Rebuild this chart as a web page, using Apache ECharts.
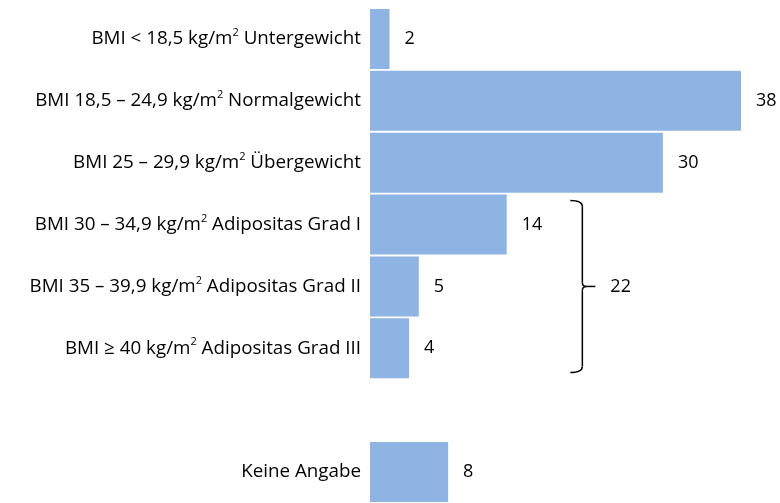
<!DOCTYPE html>
<html>
<head>
<meta charset="utf-8">
<script src="https://cdn.jsdelivr.net/npm/echarts@6/dist/echarts.min.js"></script>
<style>
  html, body { margin: 0; padding: 0; background: #fff; }
  #box { width: 780px; height: 503px; }
</style>
</head>
<body>
<div id="box"></div>
<script>
// Kategorien (leere Kategorie = Abstand vor "Keine Angabe")
var categories = [
  'BMI < 18,5 kg/m{sup|2} Untergewicht',
  'BMI 18,5 – 24,9 kg/m{sup|2} Normalgewicht',
  'BMI 25 – 29,9 kg/m{sup|2} Übergewicht',
  'BMI 30 – 34,9 kg/m{sup|2} Adipositas Grad I',
  'BMI 35 – 39,9 kg/m{sup|2} Adipositas Grad II',
  'BMI ≥ 40 kg/m{sup|2} Adipositas Grad III',
  '',
  'Keine Angabe'
]
var values = [2, 38, 30, 14, 5, 4, null, 8]

// Klammer über Adipositas-Gruppen
var bracketFrom = 3
var bracketTo = 5
var bracketLabel = '22'
var bracketValue = 21.75

var font = 'Open Sans'
var fontSize = 18
var myChart = echarts.init(document.getElementById('box'))

myChart.setOption({
  animation: false,
  textStyle: { fontFamily: font },
  grid: { left: 370, right: 39, top: 8, height: 499, containLabel: false },
  xAxis: {
    type: 'value',
    min: 0,
    max: 38,
    show: false
  },
  yAxis: {
    type: 'category',
    inverse: true,
    data: categories,
    axisLine: { show: false },
    axisTick: { show: false },
    axisLabel: {
      margin: 9,
      color: '#000',
      fontSize: 18.8,
      fontFamily: font,
      rich: {
        sup: { fontSize: 11, fontFamily: font, color: '#000', padding: [0, 0, 12, 0] }
      }
    }
  },
  series: [{
    type: 'bar',
    data: values,
    barCategoryGap: '3%',
    itemStyle: { color: '#8EB4E3' },
    label: {
      show: true,
      position: 'right',
      distance: 15,
      color: '#000',
      fontSize: fontSize,
      fontFamily: font
    }
  }]
})

// Klammer zeichnen
function drawBracket() {
  var pTop = myChart.convertToPixel({ gridIndex: 0 }, [bracketValue, bracketFrom])
  var pBottom = myChart.convertToPixel({ gridIndex: 0 }, [bracketValue, bracketTo])
  var pitch = (pBottom[1] - pTop[1]) / (bracketTo - bracketFrom)
  var x = pTop[0]
  var y1 = pTop[1] - pitch * 0.39
  var y2 = pBottom[1] + pitch * 0.39
  var ym = (y1 + y2) / 2
  var stroke = { stroke: '#000', lineWidth: 1.5, fill: 'none' }

  function curve(x1, ya, cx, cy, x2, yb) {
    return {
      type: 'bezierCurve',
      shape: { x1: x1, y1: ya, x2: x2, y2: yb, cpx1: cx, cpy1: cy },
      style: stroke
    }
  }
  function line(x1, ya, x2, yb) {
    return { type: 'line', shape: { x1: x1, y1: ya, x2: x2, y2: yb }, style: stroke }
  }

  myChart.setOption({
    graphic: [
      curve(x - 12, y1, x, y1, x, y1 + 6),
      line(x, y1 + 6, x, ym - 4),
      curve(x, ym - 4, x, ym, x + 4, ym),
      line(x + 4, ym, x + 13, ym),
      curve(x + 4, ym, x, ym, x, ym + 4),
      line(x, ym + 4, x, y2 - 6),
      curve(x, y2 - 6, x, y2, x - 12, y2),
      {
        type: 'text',
        x: x + 28,
        y: ym,
        style: {
          text: bracketLabel,
          fill: '#000',
          font: fontSize + 'px "' + font + '"',
          verticalAlign: 'middle'
        }
      }
    ]
  })
}
drawBracket()
</script>
</body>
</html>
